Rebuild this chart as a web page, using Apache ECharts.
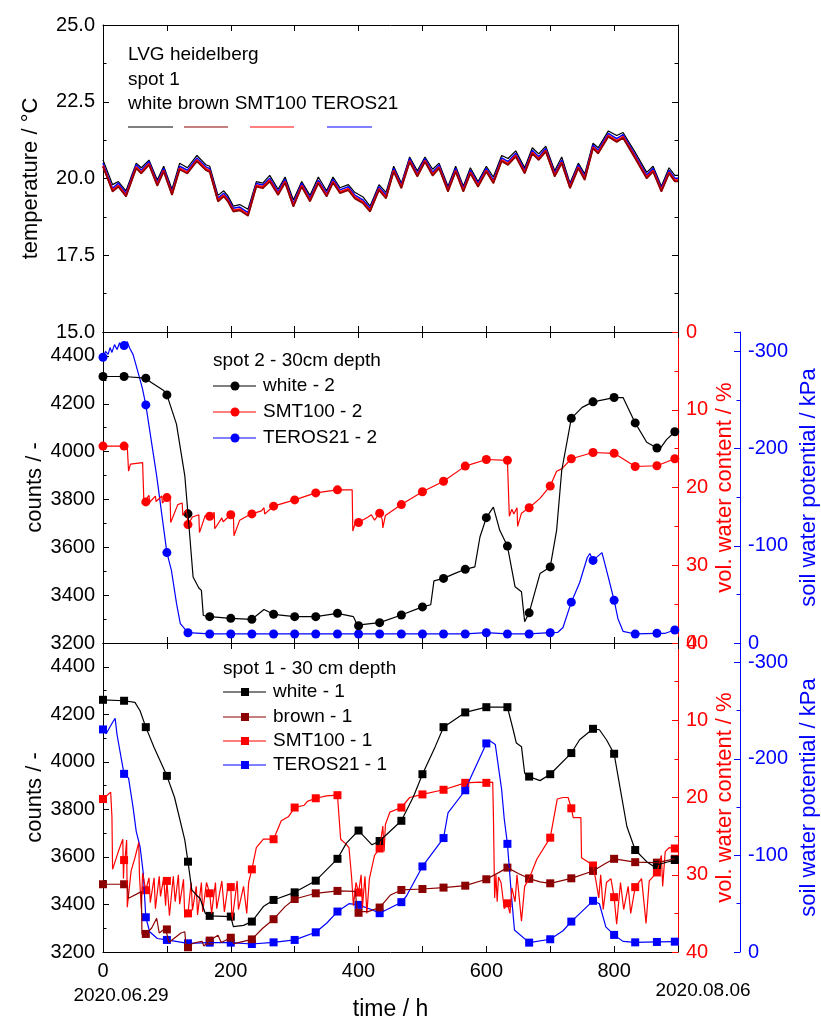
<!DOCTYPE html>
<html>
<head>
<meta charset="utf-8">
<script src="https://cdn.jsdelivr.net/npm/echarts@6/dist/echarts.min.js"></script>
<style>
html,body{margin:0;padding:0;background:#fff;}
#chart{width:821px;height:1018px;}
</style>
</head>
<body>
<div id="chart"></div>
<script>
// ---------- temperature panel (LVG heidelberg, spot 1) ----------
const tempHours = [0,15,24,36,52,60,72,85,95,108,
  120,132,147,161,167,180,189,195,204,214,
  227,240,250,261,274,285,298,311,324,337,
  350,360,371,384,394,407,418,432,443,455,
  467,480,492,504,516,526,540,552,564,575,
  587,600,611,624,634,646,660,672,682,693,
  707,718,731,744,754,767,775,791,804,814,
  833,851,861,874,886,895,900];
const tempWhite = [20.6,19.8,19.9,19.6,20.5,20.35,20.6,19.95,20.4,19.65,
  20.5,20.35,20.75,20.45,20.4,19.45,19.6,19.45,19.1,19.15,
  19.0,19.9,19.85,20.1,19.65,20.05,19.3,19.9,19.45,20.05,
  19.6,20.05,19.7,19.8,19.55,19.4,19.1,19.8,19.55,20.4,
  19.85,20.7,20.25,20.7,20.3,20.5,19.75,20.4,19.75,20.35,
  19.9,20.4,20.05,20.75,20.65,20.9,20.35,21.0,20.8,21.05,
  20.25,20.7,19.85,20.5,20.15,21.15,21.0,21.55,21.4,21.5,
  20.85,20.2,20.4,19.75,20.35,20.1,20.1];
const tempBrown = [20.38,19.57,19.73,19.41,20.33,20.16,20.44,19.76,20.22,19.46,
  20.29,20.16,20.56,20.27,20.21,19.25,19.41,19.26,18.92,18.96,
  18.78,19.73,19.68,19.9,19.46,19.86,19.08,19.73,19.25,19.84,
  19.41,19.86,19.52,19.62,19.35,19.19,18.92,19.62,19.35,20.22,
  19.68,20.54,20.06,20.54,20.09,20.33,19.57,20.22,19.57,20.16,
  19.73,20.22,19.84,20.56,20.44,20.71,20.16,20.81,20.6,20.87,
  20.06,20.49,19.68,20.33,19.95,20.98,20.81,21.36,21.19,21.32,
  20.65,20.0,20.22,19.57,20.16,19.9,19.9];
const tempSmt = [20.42,19.61,19.77,19.45,20.37,20.20,20.48,19.80,20.26,19.50,
  20.33,20.20,20.60,20.31,20.25,19.29,19.45,19.30,18.96,19.00,
  18.82,19.77,19.72,19.94,19.50,19.90,19.12,19.77,19.29,19.88,
  19.45,19.90,19.56,19.66,19.39,19.23,18.96,19.66,19.39,20.26,
  19.72,20.58,20.10,20.58,20.13,20.37,19.61,20.26,19.61,20.20,
  19.77,20.26,19.88,20.60,20.48,20.75,20.20,20.85,20.64,20.91,
  20.10,20.53,19.72,20.37,19.99,21.02,20.85,21.40,21.23,21.36,
  20.69,20.04,20.26,19.61,20.20,19.94,19.94];
const tempTeros = [20.5,19.68,19.85,19.52,20.45,20.27,20.55,19.87,20.33,19.57,
  20.4,20.27,20.67,20.38,20.32,19.36,19.52,19.37,19.03,19.07,
  18.89,19.84,19.79,20.01,19.57,19.97,19.19,19.84,19.36,19.95,
  19.52,19.97,19.63,19.73,19.46,19.3,19.03,19.73,19.46,20.33,
  19.79,20.65,20.17,20.65,20.2,20.44,19.68,20.33,19.68,20.27,
  19.84,20.33,19.95,20.67,20.55,20.82,20.27,20.92,20.71,20.98,
  20.17,20.6,19.79,20.44,20.06,21.09,20.92,21.47,21.3,21.43,
  20.76,20.11,20.33,19.68,20.27,20.01,20.01];

// ---------- marker times (h), shared by spot 1 and spot 2 ----------
const markerHours = [0,33,67,100,133,167,200,233,267,300,333,367,400,433,
  467,500,533,567,600,633,667,700,733,767,800,833,867,895];

// ---------- spot 2 - 30cm depth ----------
const white2Marks = [4314,4314,4307,4237,3740,3310,3303,3299,3320,3310,3310,3324,3272,3285,
  3317,3351,3470,3508,3724,3605,3326,3518,4139,4208,4226,4120,4015,4083];
const white2Extra = [[75,4290],[95,4255],[115,4115],[128,3900],[141,3476],[150,3430],[154,3420],[157,3315],
  [252,3340],[392,3310],[398,3275],[513,3360],[518,3460],[550,3490],[582,3518],[590,3643],
  [611,3768],[621,3671],[645,3435],[655,3414],[660,3289],[684,3490],[710,3671],[718,3921],
  [750,4185],[814,4226],[851,4039],[870,4005],[882,4050]];
const smt2Marks = [14.67,14.67,21.85,21.3,24.77,23.7,23.5,23.4,22.4,21.6,20.7,20.3,24.5,23.3,
  22.2,20.55,19.2,17.25,16.4,16.5,22.6,19.8,16.3,15.5,15.6,17.3,17.2,16.3];
const smt2Extra = [[38,14.7],[40,17.9],[43,17.0],[62,16.8],[64,21.9],
  [72,21.0],[73,21.9],[82,21.1],[83,21.8],[92,21.1],[93,22.0],
  [105,21.2],[106,24.5],[117,22.2],[124,22.0],[125,23.6],[131,22.8],
  [140,23.8],[150,23.5],[151,25.8],[160,23.6],[174,23.2],[175,25.3],[186,23.9],[188,24.4],
  [204,23.3],[205,26.2],[214,24.2],[225,23.7],[248,23.0],[252,22.6],[253,23.4],
  [390,20.3],[391,25.6],[396,24.2],[415,23.8],[420,23.5],[425,24.2],
  [437,24.1],[438,25.2],[442,23.6],
  [635,16.5],[636,23.7],[640,22.8],[643,23.4],[648,22.6],[649,25.0],[655,23.3],
  [684,21.4],[710,17.9],[718,17.6]];
const teros2Marks = [-294,-306,-245,-93,-10.6,-9.3,-9.3,-9.3,-9.3,-9.3,-9.3,-9.3,-9.3,-9.3,
  -9.3,-9.3,-9.3,-9.3,-10.6,-9.3,-9.3,-10.6,-42,-85,-44,-9.3,-10,-13.4];
const teros2Extra = [[4,-300],[8,-297],[11,-304],[14,-299],[18,-307],[22,-302],[26,-309],[30,-303],
  [38,-310],[42,-303],[47,-297],[58,-271],[62,-261],[84,-172],[107,-75],[115,-41],[121,-20],
  [712,-11],[720,-16],[746,-62],[758,-88],[762,-92],[781,-93],[790,-70],[806,-25],[814,-12],[880,-10]];

// ---------- spot 1 - 30 cm depth ----------
const white1Marks = [4261,4257,4146,3941,3580,3352,3349,3328,3419,3451,3500,3592,3711,3667,
  3752,3948,4146,4208,4230,4230,3938,3948,4037,4139,4034,3629,3566,3587];
const white1Extra = [[50,4250],[58,4215],[80,4060],[112,3850],[128,3672],[139,3461],[146,3440],
  [152,3425],[160,3363],[204,3307],[220,3312],[251,3391],[381,3658],[421,3651],[486,3854],
  [520,4064],[642,4135],[647,4079],[655,4064],[660,3952],[684,3921],[746,4093],[777,4135],
  [788,4093],[809,3896],[820,3728],[851,3580],[861,3562]];
const brown1Marks = [3485,3485,3276,3295,3220,3248,3260,3253,3338,3423,3447,3457,3365,3387,
  3461,3465,3471,3479,3506,3555,3509,3489,3510,3541,3592,3578,3576,3592];
const brown1Extra = [[38,3480],[40,3426],[60,3454],[61,3275],[76,3300],[84,3342],[88,3280],
  [98,3300],[103,3240],[122,3280],[128,3285],[130,3225],[145,3240],[155,3245],[158,3225],
  [180,3270],[185,3240],[205,3235],[220,3245],[250,3300],[285,3391],[395,3455],[398,3370],
  [415,3370],[450,3440],[620,3535],[650,3530],[684,3495],[785,3570]];
const smt1Marks = [20.2,28.1,32.0,30.8,35.0,32.4,31.6,29.3,25.4,21.3,20.1,19.7,32.3,26.6,
  21.3,19.6,19.0,18.1,18.1,33.7,30.5,25.2,21.4,28.8,32.9,31.6,29.7,26.6];
const smt1Extra = [[12,19.3],[14,22.5],[15,29.3],[24,27.0],[31,25.4],[32,30.5],[35,27.5],[37,25.5],
  [38,34.2],[44,29.5],[50,27.8],[56,25.8],[57,30.0],[60,34.4],[62,29.8],
  [72,30.4],[74,33.6],[80,30.4],[82,34.4],[88,30.2],[90,32.8],[95,30.4],[98,34.0],
  [104,35.3],[110,30.2],[113,33.5],[118,30.0],[120,33.8],[126,30.6],[128,35.5],
  [138,31.0],[140,34.6],[146,31.5],[148,35.2],[154,31.0],[156,34.8],[162,31.0],
  [170,35.0],[176,31.0],[178,34.4],[186,30.8],[190,34.8],[196,31.2],
  [202,36.0],[210,30.8],[212,34.5],[220,31.5],[225,35.0],[228,31.0],
  [240,26.5],[251,25.4],[279,23.0],[290,22.5],[315,21.0],[320,20.5],[350,19.8],
  [370,19.6],[372,25.4],[380,26.0],[385,26.5],[389,30.2],[392,34.0],[396,31.0],
  [404,30.0],[406,34.3],[410,30.2],[413,35.0],[417,30.5],[425,27.5],
  [438,23.7],[440,27.0],[442,23.5],[449,21.9],[480,20.0],[590,18.0],
  [610,18.0],[611,21.9],[613,33.0],[615,30.0],[617,33.5],[619,30.3],[623,31.0],[628,34.4],
  [637,35.0],[640,31.7],[645,33.5],[648,30.0],[655,36.0],[660,31.5],
  [679,28.0],[711,20.2],[720,20.0],[728,20.0],[736,22.6],[748,22.6],[749,27.8],[758,28.3],
  [772,31.0],[776,33.0],[779,30.0],[783,34.5],[788,31.0],[795,30.5],
  [804,36.4],[810,31.0],[815,34.5],[822,31.5],[826,35.0],
  [843,30.5],[850,36.3],[855,30.8],[874,27.5],[876,31.5],[880,27.0],[886,26.5]];
const teros1Marks = [-230.5,-184.5,-36,-12.5,-9,-9.7,-9.7,-8.3,-10,-12.5,-20.4,-41.9,-48.8,-40.2,
  -51.6,-88.6,-118,-167.5,-216,-112,-9.7,-13.2,-31.5,-53,-17.7,-10,-10.4,-10.7];
const teros1Extra = [[5,-226],[10,-232],[16,-239],[19,-242],[22,-225],[30,-195],[40,-180],
  [47,-150],[52,-125],[58,-109],[63,-82],[73,-21],[85,-14],[350,-29.8],[385,-50],[420,-44],
  [475,-58],[540,-144],[575,-180],[606,-218.5],[614,-215],[624,-168],[628,-138],[639,-61],
  [644,-22.8],[720,-22],[777,-50],[787,-26],[814,-11]];

// -------------------------------------
const FONT = '"Liberation Sans", Arial, Helvetica, sans-serif';
const BLACK = '#000000', RED = '#ff0000', BLUE = '#0000ff', BROWN = '#8b0000';

const chart = echarts.init(document.getElementById('chart'));

function marks(vals) {
  return markerHours.map((h, i) => [h, vals[i]]);
}
function lineData(vals, extra) {
  return marks(vals).concat(extra).sort((a, b) => a[0] - b[0]);
}
function pairs(xs, ys) {
  return xs.map((x, i) => [x, ys[i]]);
}

function xAx(grid, pos, labels, extra) {
  return Object.assign({
    type: 'value', gridIndex: grid, position: pos,
    min: 0, max: 900, interval: 100,
    axisLine: { onZero: false, lineStyle: { color: BLACK, width: 1 } },
    axisTick: { inside: true, length: 6, lineStyle: { color: BLACK } },
    axisLabel: {
      show: labels, color: BLACK, fontSize: 20, fontFamily: FONT, margin: 9,
      formatter: v => (v % 200 === 0 && v < 900 ? String(v) : '')
    },
    splitLine: { show: false }
  }, extra || {});
}

function yAx(o) {
  const c = o.color || BLACK;
  return {
    type: 'value', gridIndex: o.grid, position: o.pos, offset: o.offset || 0,
    min: o.min, max: o.max, interval: o.interval,
    minInterval: o.minInterval, maxInterval: o.maxInterval,
    inverse: !!o.inverse,
    axisLine: { show: true, onZero: false, lineStyle: { color: c, width: 1 } },
    axisTick: { show: true, inside: true, length: 6, lineStyle: { color: c } },
    minorTick: { show: true, splitNumber: 2, length: 3.5, lineStyle: { color: c } },
    axisLabel: {
      show: o.labels !== false, color: c, fontSize: 20, fontFamily: FONT, margin: 8,
      showMaxLabel: o.showMax, showMinLabel: o.showMin,
      formatter: o.fmt || (v => String(v))
    },
    splitLine: { show: false },
    name: o.name || '', nameLocation: 'middle', nameGap: o.nameGap || 0, nameRotate: 90,
    nameMoveOverlap: false,
    nameTextStyle: { color: c, fontSize: 22, fontFamily: FONT }
  };
}

function lineS(name, xi, yi, data, color, width) {
  return {
    name: name, type: 'line', xAxisIndex: xi, yAxisIndex: yi, data: data,
    symbol: 'none', showSymbol: false, silent: true, animation: false,
    lineStyle: { color: color, width: width || 1.2 }
  };
}
function markS(xi, yi, data, color, symbol, size) {
  return {
    type: 'scatter', xAxisIndex: xi, yAxisIndex: yi, data: data,
    symbol: symbol, symbolSize: size, silent: true, animation: false,
    itemStyle: { color: color, opacity: 1 }
  };
}

// ---------- legends drawn as graphic ----------
function txt(x, y, s, size, color, align) {
  return { type: 'text', x: x, y: y, silent: true,
    style: { text: s, font: size + 'px ' + FONT, fill: color || BLACK,
      textAlign: align || 'left', verticalAlign: 'middle' } };
}
function seg(x1, x2, y, color) {
  return { type: 'line', silent: true, shape: { x1: x1, y1: y, x2: x2, y2: y },
    style: { stroke: color, lineWidth: 1.2 } };
}
function dot(x, y, color) {
  return { type: 'circle', silent: true, shape: { cx: x, cy: y, r: 4.5 }, style: { fill: color } };
}
function sq(x, y, color) {
  return { type: 'rect', silent: true, shape: { x: x - 4, y: y - 4, width: 8, height: 8 }, style: { fill: color } };
}

const graphics = [
  txt(128, 55, 'LVG heidelberg', 19),
  txt(128, 80, 'spot 1', 19),
  txt(128, 104, 'white brown SMT100 TEROS21', 19),
  seg(128, 173, 127, BLACK), seg(184, 228, 127, BROWN), seg(250, 294, 127, RED), seg(327, 372, 127, BLUE),

  txt(213, 361, 'spot 2 - 30cm depth', 19),
  seg(213, 256, 386, BLACK), dot(235, 386, BLACK), txt(263, 386, 'white - 2', 19),
  seg(213, 256, 412, RED), dot(235, 412, RED), txt(263, 412, 'SMT100 - 2', 19),
  seg(213, 256, 438, BLUE), dot(235, 438, BLUE), txt(263, 438, 'TEROS21 - 2', 19),

  txt(223, 669, 'spot 1 - 30 cm depth', 19),
  seg(223, 266, 692, BLACK), sq(245, 692, BLACK), txt(273, 692, 'white - 1', 19),
  seg(223, 266, 717, BROWN), sq(245, 717, BROWN), txt(273, 717, 'brown - 1', 19),
  seg(223, 266, 741, RED), sq(245, 741, RED), txt(273, 741, 'SMT100 - 1', 19),
  seg(223, 266, 765, BLUE), sq(245, 765, BLUE), txt(273, 765, 'TEROS21 - 1', 19),

  txt(121, 996, '2020.06.29', 19, BLACK, 'center'),
  txt(703, 991, '2020.08.06', 19, BLACK, 'center')
];

const option = {
  backgroundColor: '#ffffff',
  animation: false,
  grid: [
    { left: 103, top: 25, width: 575, height: 307, outerBoundsMode: 'none', containLabel: false },
    { left: 103, top: 332, width: 575, height: 311, outerBoundsMode: 'none', containLabel: false },
    { left: 103, top: 643, width: 575, height: 309, outerBoundsMode: 'none', containLabel: false }
  ],
  xAxis: [
    xAx(0, 'bottom', false), xAx(0, 'top', false),
    xAx(1, 'bottom', false), xAx(1, 'top', false),
    xAx(2, 'bottom', true, {
      name: 'time / h', nameLocation: 'middle', nameGap: 46,
      nameTextStyle: { color: BLACK, fontSize: 23, fontFamily: FONT }
    }),
    xAx(2, 'top', false)
  ],
  yAxis: [
    yAx({ grid: 0, pos: 'left', min: 15, max: 25, interval: 2.5, fmt: v => v.toFixed(1),
      name: 'temperature / °C', nameGap: 61 }),
    yAx({ grid: 0, pos: 'right', min: 15, max: 25, interval: 2.5, labels: false }),

    yAx({ grid: 1, pos: 'left', min: 3200, max: 4500, interval: 200, showMax: false,
      name: 'counts / -', nameGap: 57 }),
    yAx({ grid: 1, pos: 'right', min: 0, max: 40, interval: 10, inverse: true, color: RED,
      name: 'vol. water content / %', nameGap: 36 }),
    yAx({ grid: 1, pos: 'right', offset: 62, min: -320, max: 0, minInterval: 100, maxInterval: 100,
      inverse: true, showMin: false, color: BLUE, name: 'soil water potential / kPa', nameGap: 58 }),

    yAx({ grid: 2, pos: 'left', min: 3200, max: 4500, interval: 200, showMax: false,
      name: 'counts / -', nameGap: 57 }),
    yAx({ grid: 2, pos: 'right', min: 0, max: 40, interval: 10, inverse: true, color: RED,
      name: 'vol. water content / %', nameGap: 36 }),
    yAx({ grid: 2, pos: 'right', offset: 62, min: -320, max: 0, minInterval: 100, maxInterval: 100,
      inverse: true, showMin: false, color: BLUE, name: 'soil water potential / kPa', nameGap: 58 })
  ],
  series: [
    lineS('white', 0, 0, pairs(tempHours, tempWhite), BLACK, 1.2),
    lineS('TEROS21', 0, 0, pairs(tempHours, tempTeros), BLUE, 1.5),
    lineS('SMT100', 0, 0, pairs(tempHours, tempSmt), RED, 2),
    lineS('brown', 0, 0, pairs(tempHours, tempBrown), BROWN, 1.6),

    lineS('TEROS21 - 2', 2, 4, lineData(teros2Marks, teros2Extra), BLUE),
    markS(2, 4, marks(teros2Marks), BLUE, 'circle', 9),
    lineS('SMT100 - 2', 2, 3, lineData(smt2Marks, smt2Extra), RED),
    markS(2, 3, marks(smt2Marks), RED, 'circle', 9),
    lineS('white - 2', 2, 2, lineData(white2Marks, white2Extra), BLACK),
    markS(2, 2, marks(white2Marks), BLACK, 'circle', 9),

    lineS('TEROS21 - 1', 4, 7, lineData(teros1Marks, teros1Extra), BLUE),
    markS(4, 7, marks(teros1Marks), BLUE, 'rect', 8),
    lineS('SMT100 - 1', 4, 6, lineData(smt1Marks, smt1Extra), RED),
    markS(4, 6, marks(smt1Marks), RED, 'rect', 8),
    lineS('brown - 1', 4, 5, lineData(brown1Marks, brown1Extra), BROWN),
    markS(4, 5, marks(brown1Marks), BROWN, 'rect', 8),
    lineS('white - 1', 4, 5, lineData(white1Marks, white1Extra), BLACK),
    markS(4, 5, marks(white1Marks), BLACK, 'rect', 8)
  ],
  graphic: graphics
};

chart.setOption(option);
window.addEventListener('resize', () => chart.resize());
</script>
</body>
</html>
